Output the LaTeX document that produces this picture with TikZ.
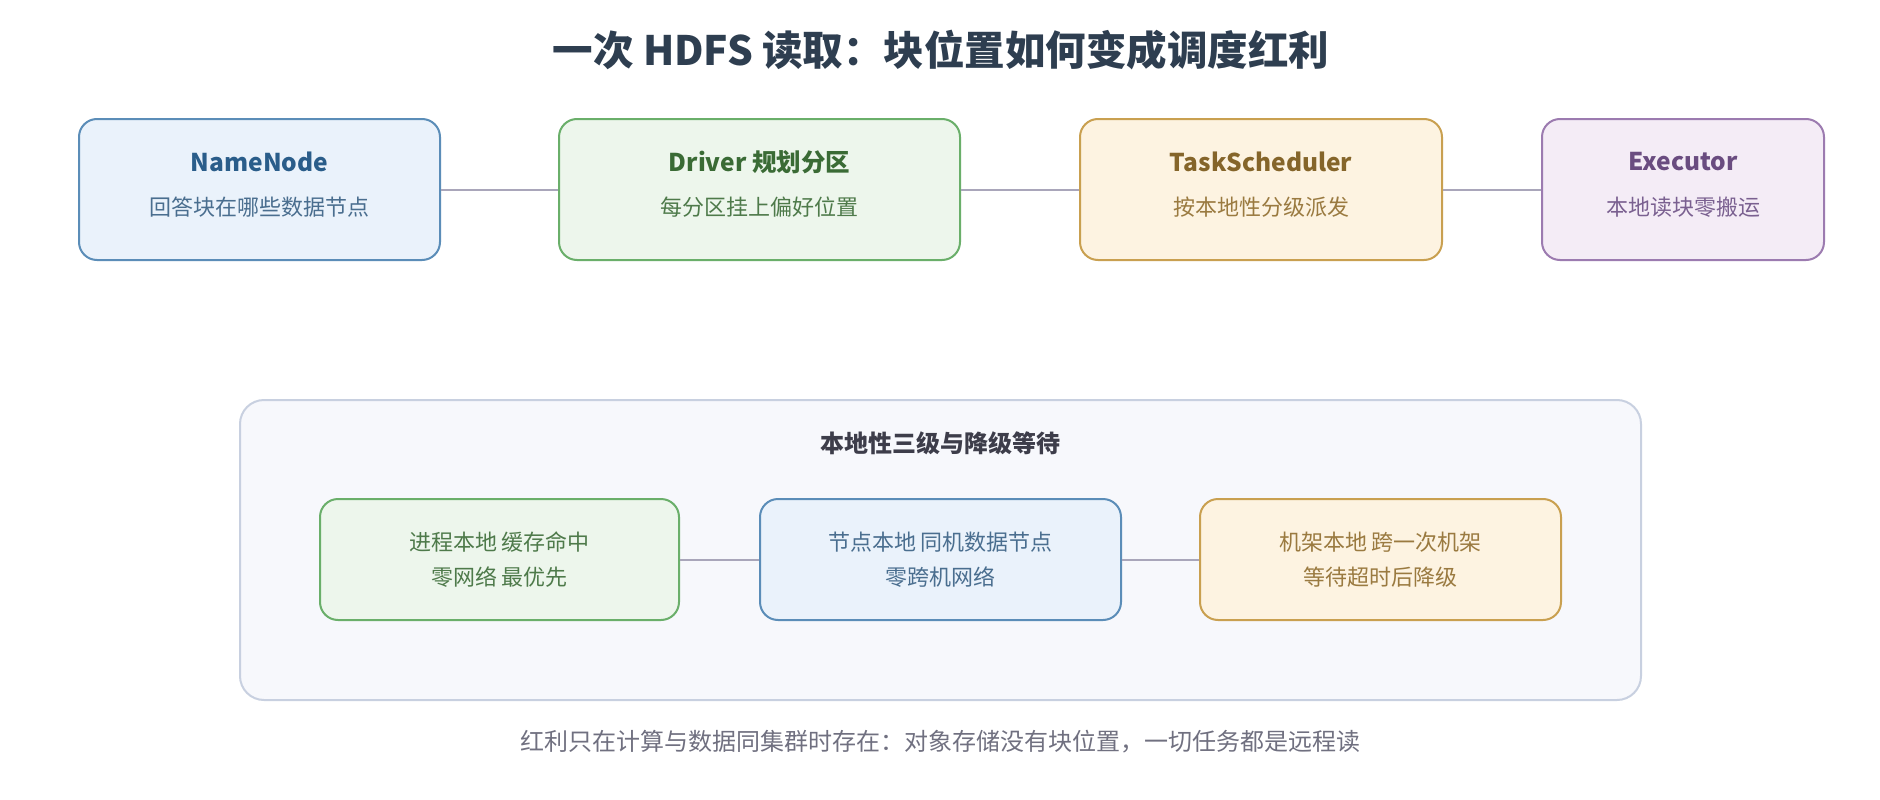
\documentclass[tikz,border=0pt]{standalone}
\usepackage{fontspec}
\setmainfont{Noto Sans CJK SC}
\definecolor{titlec}{HTML}{2E3E50}
\definecolor{linec}{HTML}{A9A6BA}
\definecolor{bluefill}{HTML}{EAF2FB}
\definecolor{blueedge}{HTML}{5B8DB8}
\definecolor{bluetitle}{HTML}{2A5D8A}
\definecolor{bluesub}{HTML}{4A6E8F}
\definecolor{greenfill}{HTML}{EDF6EC}
\definecolor{greenedge}{HTML}{6AAF6A}
\definecolor{greentitle}{HTML}{3A6B35}
\definecolor{greensub}{HTML}{4E7A4A}
\definecolor{yellowfill}{HTML}{FDF3E1}
\definecolor{yellowedge}{HTML}{C9A050}
\definecolor{yellowtitle}{HTML}{85652A}
\definecolor{yellowsub}{HTML}{9A7A40}
\definecolor{purplefill}{HTML}{F4ECF6}
\definecolor{purpleedge}{HTML}{9C7BB0}
\definecolor{purpletitle}{HTML}{6A4C80}
\definecolor{purplesub}{HTML}{7A6090}
\definecolor{contfill}{HTML}{F7F8FC}
\definecolor{contedge}{HTML}{C8D0E0}
\definecolor{conttitle}{HTML}{3D3D4A}
\definecolor{footc}{HTML}{707080}
\tikzset{
  card/.style={draw, line width=2pt, rounded corners=18pt, inner sep=0pt},
  topcard/.style={card, minimum height=141pt},
  lowcard/.style={card, minimum width=360pt, minimum height=121pt, align=center,
    font=\fontsize{22}{35}\selectfont},
  ctitle/.style={font=\bfseries\fontsize{24.5}{30}\selectfont, inner sep=0pt},
  csub/.style={font=\fontsize{22}{26}\selectfont, inner sep=0pt},
  link/.style={draw=linec, line width=2pt},
}
\begin{document}
\begin{tikzpicture}[x=1pt,y=-1pt]
\useasboundingbox[fill=white] (0,0) rectangle (1880,800);

\node[font=\bfseries\fontsize{40.5}{48}\selectfont, text=titlec] (title) at (941,50) {一次 HDFS 读取：块位置如何变成调度红利};

% top row
\node[topcard, draw=blueedge, fill=bluefill, minimum width=361pt] (nn) at (259.5,189.5) {};
\node[topcard, draw=greenedge, fill=greenfill, minimum width=401pt] (drv) at (759.5,189.5) {};
\node[topcard, draw=yellowedge, fill=yellowfill, minimum width=362pt] (ts) at (1261,189.5) {};
\node[topcard, draw=purpleedge, fill=purplefill, minimum width=282pt] (ex) at (1683,189.5) {};

\node[ctitle, text=bluetitle] (nn-t) at ([yshift=27.5pt]nn.center) {NameNode};
\node[csub, text=bluesub] (nn-s) at ([yshift=-17.5pt]nn.center) {回答块在哪些数据节点};
\node[ctitle, text=greentitle] (drv-t) at ([yshift=27.5pt]drv.center) {Driver 规划分区};
\node[csub, text=greensub] (drv-s) at ([yshift=-17.5pt]drv.center) {每分区挂上偏好位置};
\node[ctitle, text=yellowtitle] (ts-t) at ([yshift=27.5pt]ts.center) {TaskScheduler};
\node[csub, text=yellowsub] (ts-s) at ([yshift=-17.5pt]ts.center) {按本地性分级派发};
\node[ctitle, text=purpletitle] (ex-t) at ([yshift=27.5pt]ex.center) {Executor};
\node[csub, text=purplesub] (ex-s) at ([yshift=-17.5pt]ex.center) {本地读块零搬运};

\draw[link] (nn.east) -- (drv.west);
\draw[link] (drv.east) -- (ts.west);
\draw[link] (ts.east) -- (ex.west);

% container
\node[draw=contedge, fill=contfill, line width=2pt, rounded corners=24pt,
  minimum width=1401pt, minimum height=300pt, inner sep=0pt] (cont) at (940.5,550) {};
\node[font=\bfseries\fontsize{24}{28}\selectfont, text=conttitle] (cont-t) at (940,443) {本地性三级与降级等待};

\node[lowcard, draw=greenedge, fill=greenfill, text=greensub, minimum width=359pt] (pl) at (499.5,559.5) {进程本地 缓存命中\\零网络 最优先};
\node[lowcard, draw=blueedge, fill=bluefill, text=bluesub, minimum width=361pt] (nl) at (940.5,559.5) {节点本地 同机数据节点\\零跨机网络};
\node[lowcard, draw=yellowedge, fill=yellowfill, text=yellowsub, minimum width=361pt] (rl) at (1380.5,559.5) {机架本地 跨一次机架\\等待超时后降级};

\draw[link] (pl.east) -- (nl.west);
\draw[link] (nl.east) -- (rl.west);

\node[font=\fontsize{24}{28}\selectfont, text=footc] (foot) at (940,742) {红利只在计算与数据同集群时存在：对象存储没有块位置，一切任务都是远程读};
\end{tikzpicture}
\end{document}
